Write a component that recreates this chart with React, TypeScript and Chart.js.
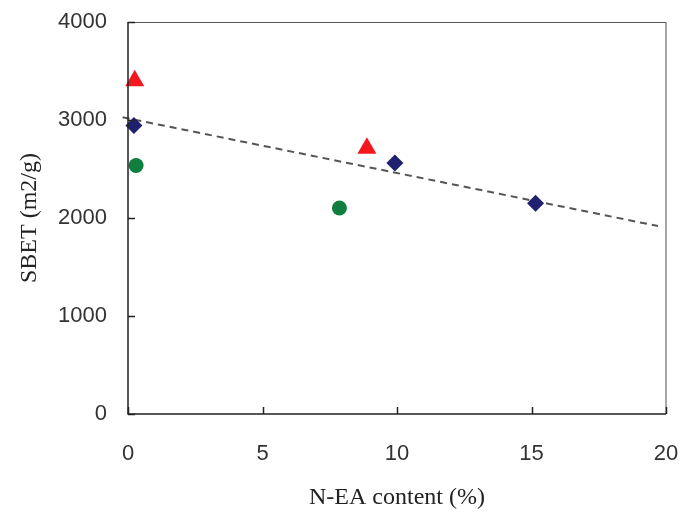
import React, { useEffect, useRef } from "react";
import { Chart, registerables } from "chart.js";

Chart.register(...registerables);

const xTicks = [0, 5, 10, 15, 20];
const yTicks = [0, 1000, 2000, 3000, 4000];

const redX = [0.25, 8.88];
const redY = [3400, 2712];
const navyX = [0.22, 9.92, 15.15];
const navyY = [2945, 2562, 2150];
const greenX = [0.3, 7.86];
const greenY = [2536, 2102];
const trendX = [-0.2, 19.7];
const trendY = [3028, 1918];

const xTitle = "N-EA content (%)";
const yTitle = "SBET (m2/g)";

const pts = (xs: number[], ys: number[]) => xs.map((x, i) => ({ x, y: ys[i] }));

const framePlugin = {
  id: "frame",
  afterDatasetsDraw(chart: any) {
    const { ctx, chartArea } = chart;
    const { left, right, top, bottom } = chartArea;
    const xs = chart.scales.x;
    const ys = chart.scales.y;
    ctx.save();
    ctx.lineCap = "butt";
    ctx.strokeStyle = "#555";
    ctx.lineWidth = 1;
    ctx.beginPath();
    ctx.moveTo(left, top + 0.5);
    ctx.lineTo(right, top + 0.5);
    ctx.stroke();
    ctx.strokeStyle = "#888";
    ctx.lineWidth = 1.5;
    ctx.beginPath();
    ctx.moveTo(right, top);
    ctx.lineTo(right, bottom);
    ctx.stroke();
    ctx.strokeStyle = "#222";
    ctx.lineWidth = 1.5;
    ctx.beginPath();
    ctx.moveTo(left, top);
    ctx.lineTo(left, bottom);
    ctx.lineTo(right, bottom);
    ctx.stroke();
    yTicks.forEach((v) => {
      const py = Math.round(ys.getPixelForValue(v)) + 0.5;
      ctx.beginPath();
      ctx.moveTo(left, py);
      ctx.lineTo(left + 7, py);
      ctx.stroke();
    });
    xTicks.forEach((v) => {
      const px = Math.round(xs.getPixelForValue(v)) + 0.5;
      ctx.beginPath();
      ctx.moveTo(px, bottom);
      ctx.lineTo(px, bottom - 7);
      ctx.stroke();
    });
    ctx.restore();
  },
};

export default function App() {
  const ref = useRef<HTMLCanvasElement | null>(null);
  useEffect(() => {
    if (!ref.current) return;
    const chart = new Chart(ref.current, {
      type: "scatter",
      data: {
        datasets: [
          {
            label: "trend",
            data: pts(trendX, trendY),
            showLine: true,
            borderColor: "#555",
            borderWidth: 2,
            borderDash: [7, 5],
            pointRadius: 0,
            fill: false,
            clip: false as any,
            order: 10,
          },
          {
            label: "red",
            data: pts(redX, redY),
            pointStyle: "triangle",
            pointRadius: 11,
            backgroundColor: "#F2181E",
            borderColor: "#F2181E",
            borderWidth: 0,
            clip: false as any,
          },
          {
            label: "navy",
            data: pts(navyX, navyY),
            pointStyle: "rectRot",
            pointRadius: 8.5,
            backgroundColor: "#202070",
            borderColor: "#202070",
            borderWidth: 0,
            clip: false as any,
          },
          {
            label: "green",
            data: pts(greenX, greenY),
            pointStyle: "circle",
            pointRadius: 7.5,
            backgroundColor: "#0E7F3E",
            borderColor: "#0E7F3E",
            borderWidth: 0,
            clip: false as any,
          },
        ],
      },
      options: {
        animation: false,
        responsive: false,
        maintainAspectRatio: false,
        layout: { padding: { top: 22, right: 13, left: 0, bottom: 0 } },
        plugins: { legend: { display: false }, tooltip: { enabled: false } },
        scales: {
          x: {
            type: "linear",
            min: 0,
            max: 20,
            afterBuildTicks: (s: any) => {
              s.ticks = xTicks.map((v) => ({ value: v }));
            },
            afterFit: (s: any) => {
              s.height = 99;
              s.paddingLeft = 0;
              s.paddingRight = 0;
            },
            grid: { display: false, drawTicks: false },
            border: { display: false },
            ticks: {
              padding: 27,
              color: "#333",
              font: { family: "'Liberation Sans', sans-serif", size: 22 },
              maxRotation: 0,
              callback: (v: any) => String(v),
            },
            title: {
              display: true,
              text: xTitle,
              color: "#222",
              font: { family: "'Liberation Serif', serif", size: 24 },
              padding: { top: 0, bottom: 1 },
            },
          },
          y: {
            type: "linear",
            min: 0,
            max: 4000,
            afterBuildTicks: (s: any) => {
              s.ticks = yTicks.map((v) => ({ value: v }));
            },
            afterFit: (s: any) => {
              s.width = 128;
              s.paddingTop = 0;
              s.paddingBottom = 0;
            },
            grid: { display: false, drawTicks: false },
            border: { display: false },
            ticks: {
              padding: 21,
              color: "#333",
              font: { family: "'Liberation Sans', sans-serif", size: 22 },
              callback: (v: any) => String(v),
            },
            title: {
              display: true,
              text: yTitle,
              color: "#222",
              font: { family: "'Liberation Serif', serif", size: 24 },
              padding: { top: 15, bottom: 0 },
            },
          },
        },
      },
      plugins: [framePlugin],
    });
    return () => chart.destroy();
  }, []);
  return (
    <div style={{ position: "absolute", left: 0, top: 0, width: 679, height: 513, background: "#fff" }}>
      <canvas ref={ref} width={679} height={513} style={{ display: "block", width: 679, height: 513 }} />
    </div>
  );
}
